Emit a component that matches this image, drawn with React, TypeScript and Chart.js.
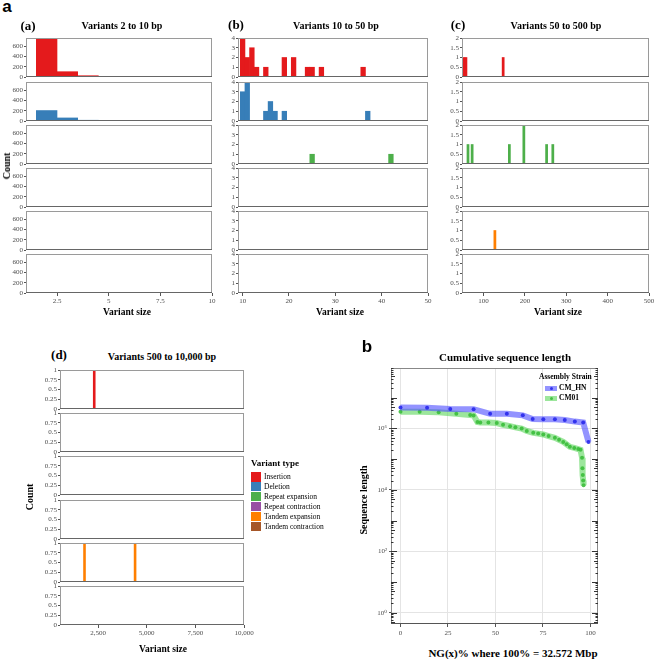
import React, { useEffect, useRef } from 'react';
import { Chart, registerables } from 'chart.js';
Chart.register(...registerables);

const SERIF = '"Liberation Serif", "DejaVu Serif", serif';
const SANS = '"Liberation Sans", Arial, sans-serif';

// ---------- data ----------
const VARIANT_TYPES = ['Insertion', 'Deletion', 'Repeat expansion', 'Repeat contraction', 'Tandem expansion', 'Tandem contraction'];
const VARIANT_COLORS = ['#E41A1C', '#377EB8', '#4DAF4A', '#984EA3', '#FF7F00', '#A65628'];

// (a) Variants 2 to 10 bp  [bin centre, count]
const A_INSERTION = [[2, 760], [3, 104], [4, 25], [5, 8]];
const A_DELETION = [[2, 205], [3, 60], [4, 15], [5, 5]];
const A_X_TICKS = [2.5, 5, 7.5, 10];
const A_Y_TICKS = [0, 200, 400, 600];

// (b) Variants 10 to 50 bp
const B_INSERTION = [[10, 4], [11, 2], [12, 3], [13, 1], [15, 1], [19, 2], [21, 2], [24, 1], [25, 1], [27, 1], [36, 1]];
const B_DELETION = [[10, 3], [11, 4], [15, 1], [16, 2], [17, 1], [19, 1], [37, 1]];
const B_REPEAT_EXPANSION = [[25, 1], [42, 1]];
const B_X_TICKS = [10, 20, 30, 40, 50];
const B_Y_TICKS = [0, 1, 2, 3, 4];

// (c) Variants 50 to 500 bp
const C_INSERTION = [[52.5, 1], [57.5, 1], [147.5, 1]];
const C_REPEAT_EXPANSION = [[62.5, 1], [72.5, 1], [162.5, 1], [197.5, 2], [252.5, 1], [267.5, 1]];
const C_TANDEM_EXPANSION = [[127.5, 1]];
const C_X_TICKS = [100, 200, 300, 400, 500];
const C_Y_TICKS = [0, 0.5, 1, 1.5, 2];

// (d) Variants 500 to 10,000 bp
const D_INSERTION = [[2300, 1]];
const D_TANDEM_EXPANSION = [[1800, 1], [4400, 1]];
const D_X_TICKS = [2500, 5000, 7500, 10000];
const D_Y_TICKS = [0, 0.25, 0.5, 0.75, 1];

// b: Cumulative sequence length
const CM_HN_NGX = [0, 14, 26.2, 38.5, 47.2, 56, 64.4, 69.6, 75.2, 81.3, 86.5, 91.8, 96.2, 99];
const CM_HN_LEN = [4.7e6, 4.68e6, 4.27e6, 4.17e6, 2.95e6, 2.95e6, 2.63e6, 2.0e6, 1.98e6, 1.95e6, 1.85e6, 1.65e6, 1.55e6, 3.6e5];
const CM01_NGX = [0, 10.1, 20.1, 29.4, 36.7, 38.5, 40.5, 42, 46.3, 50.7, 54, 57.7, 60.5, 63.8, 66.5, 69.9, 72.5, 75.2, 78, 81.3, 83.5, 85.7, 87.5, 89.2, 91.5, 93.6, 94.8, 95.6, 95.8, 96.0, 96.2, 96.4];
const CM01_LEN = [3.45e6, 3.45e6, 3.3e6, 2.95e6, 2.7e6, 2.6e6, 1.6e6, 1.55e6, 1.55e6, 1.48e6, 1.3e6, 1.17e6, 1.07e6, 9.8e5, 8.2e5, 7.1e5, 6.7e5, 6.3e5, 5.6e5, 4.9e5, 4.2e5, 3.6e5, 3.0e5, 2.5e5, 2.3e5, 2.1e5, 2.0e5, 1.1e5, 5.0e4, 3.0e4, 2.0e4, 1.4e4];
const NG_X_TICKS = [0, 25, 50, 75, 100];
const LEN_Y_TICKS = [1, 1e2, 1e4, 1e6];

// ---------- layout ----------
const ROW_STEP = 43.2;
const ROW_H = 39;
const AXW = 24;
const PAD_T = 6;
const PAD_B = 6;
const PAD_R = 16;
const XH = 14;

const HIST_PANELS = [
  { id: 'a', series: [A_INSERTION, A_DELETION, [], [], [], []], binW: 1, xMin: 1, xMax: 10, yMax: 765, xTicks: A_X_TICKS, yTicks: A_Y_TICKS, left: 26, right: 212, top: 38.3, fmt: (v: number) => String(v) },
  { id: 'b', series: [B_INSERTION, B_DELETION, B_REPEAT_EXPANSION, [], [], []], binW: 1, xMin: 9, xMax: 50, yMax: 4, xTicks: B_X_TICKS, yTicks: B_Y_TICKS, left: 238, right: 428.3, top: 38.3, fmt: (v: number) => String(v) },
  { id: 'c', series: [C_INSERTION, [], C_REPEAT_EXPANSION, [], C_TANDEM_EXPANSION, []], binW: 5, xMin: 48, xMax: 500, yMax: 2, xTicks: C_X_TICKS, yTicks: C_Y_TICKS, left: 462.3, right: 649, top: 38.3, fmt: (v: number) => String(v) },
  { id: 'd', series: [D_INSERTION, [], [], [], D_TANDEM_EXPANSION, []], binW: 100, xMin: 540, xMax: 10000, yMax: 1, xTicks: D_X_TICKS, yTicks: D_Y_TICKS, left: 59.7, right: 243.7, top: 370, fmt: (v: number) => v.toLocaleString('en-US') },
];

const framePlugin = {
  id: 'frame',
  afterDatasetsDraw(chart: any, _a: any, opts: any) {
    const { ctx, chartArea: a } = chart;
    ctx.save();
    ctx.lineWidth = 1;
    ctx.strokeStyle = opts.color || '#9a9a9a';
    ctx.strokeRect(Math.round(a.left) + 0.5, Math.round(a.top) + 0.5, Math.round(a.right) - Math.round(a.left) - 1, Math.round(a.bottom) - Math.round(a.top) - 1);
    ctx.strokeStyle = opts.bottomColor || '#666';
    ctx.beginPath();
    ctx.moveTo(Math.round(a.left), Math.round(a.bottom) - 0.5);
    ctx.lineTo(Math.round(a.right), Math.round(a.bottom) - 0.5);
    ctx.stroke();
    ctx.restore();
  },
};

const logTicksPlugin = {
  id: 'logticks',
  afterDatasetsDraw(chart: any) {
    const { ctx, chartArea: a } = chart;
    const ys = chart.scales.y;
    ctx.save();
    ctx.strokeStyle = '#333';
    ctx.lineWidth = 1;
    for (let d = -1; d <= 8; d++) {
      for (let m = 1; m <= 9; m++) {
        const v = m * Math.pow(10, d);
        if (v < ys.min || v > ys.max) continue;
        const y = Math.round(ys.getPixelForValue(v)) + 0.5;
        const len = m === 1 ? 6 : m === 5 ? 4 : 2.5;
        ctx.beginPath();
        ctx.moveTo(a.left, y);
        ctx.lineTo(a.left + len, y);
        ctx.moveTo(a.right, y);
        ctx.lineTo(a.right - len, y);
        ctx.stroke();
      }
    }
    ctx.restore();
  },
};

function binTable(points: number[][], base: number, binW: number, xMin: number, xMax: number) {
  const counts = new Map<number, number>();
  points.forEach(([c, n]) => counts.set(Math.round((c - base) / binW), n));
  const k0 = Math.ceil((xMin - base) / binW);
  const k1 = Math.floor((xMax - base) / binW);
  const out: { x: number; y: number }[] = [];
  for (let k = k0; k <= k1; k++) out.push({ x: base + k * binW, y: counts.get(k) || 0 });
  return out;
}

function histConfig(p: any, row: number, isBottom: boolean) {
  const all = p.series.flat();
  const base = all.length ? all[0][0] : p.xMin;
  return {
    type: 'bar',
    data: {
      datasets: [{
        label: VARIANT_TYPES[row],
        data: binTable(p.series[row], base, p.binW, p.xMin, p.xMax),
        backgroundColor: VARIANT_COLORS[row],
        borderWidth: 0,
        barPercentage: 1,
        categoryPercentage: 1,
        grouped: false,
      }],
    },
    options: {
      animation: false,
      responsive: false,
      devicePixelRatio: 1,
      events: [],
      layout: { padding: { left: 0, right: PAD_R, top: PAD_T, bottom: isBottom ? 2 : PAD_B } },
      plugins: { legend: { display: false }, tooltip: { enabled: false }, frame: {} },
      scales: {
        x: {
          type: 'linear', min: p.xMin, max: p.xMax, offset: false, display: isBottom,
          afterBuildTicks: (s: any) => { s.ticks = p.xTicks.map((v: number) => ({ value: v })); },
          afterFit: (s: any) => { s.height = isBottom ? XH : 0; },
          grid: { display: true, drawOnChartArea: false, drawTicks: true, tickLength: 3, color: '#555', offset: false },
          border: { display: false },
          ticks: { font: { family: SERIF, size: 7 }, color: '#4d4d4d', padding: 1, maxRotation: 0, autoSkip: false, callback: (v: number) => p.fmt(v) },
        },
        y: {
          type: 'linear', min: 0, max: p.yMax,
          afterBuildTicks: (s: any) => { s.ticks = p.yTicks.map((v: number) => ({ value: v })); },
          afterFit: (s: any) => { s.width = AXW; },
          grid: { display: true, drawOnChartArea: false, drawTicks: true, tickLength: 2, color: '#555' },
          border: { display: false },
          ticks: { font: { family: SERIF, size: 7 }, color: '#4d4d4d', padding: 1, autoSkip: false, callback: (v: number) => String(v) },
        },
      },
    },
    plugins: [framePlugin],
  };
}

const SUP = '⁰¹²³⁴⁵⁶⁷⁸⁹';

function cumulativeConfig() {
  return {
    type: 'line',
    data: {
      datasets: [
        {
          label: 'CM_HN',
          data: CM_HN_NGX.map((x, i) => ({ x, y: CM_HN_LEN[i] })),
          borderColor: 'rgba(80,80,255,0.62)',
          borderWidth: 6,
          pointRadius: 2,
          pointBorderWidth: 0,
          pointBackgroundColor: 'rgba(40,40,235,0.9)',
          tension: 0,
        },
        {
          label: 'CM01',
          data: CM01_NGX.map((x, i) => ({ x, y: CM01_LEN[i] })),
          borderColor: 'rgba(95,215,95,0.62)',
          borderWidth: 6,
          pointRadius: 2,
          pointBorderWidth: 0,
          pointBackgroundColor: 'rgba(60,190,60,0.9)',
          tension: 0,
        },
      ],
    },
    options: {
      animation: false,
      responsive: false,
      devicePixelRatio: 1,
      events: [],
      layout: { padding: { left: 0, right: 8, top: 6, bottom: 2 } },
      plugins: { legend: { display: false }, tooltip: { enabled: false }, frame: { color: '#888', bottomColor: '#555' } },
      scales: {
        x: {
          type: 'linear', min: -5, max: 104,
          afterBuildTicks: (s: any) => { s.ticks = NG_X_TICKS.map((v) => ({ value: v })); },
          afterFit: (s: any) => { s.height = 16; },
          grid: { color: '#e4e4e4', drawTicks: true, tickLength: 3, tickColor: '#555' },
          border: { display: false },
          ticks: { font: { family: SERIF, size: 7 }, color: '#4d4d4d', padding: 2, maxRotation: 0, autoSkip: false },
        },
        y: {
          type: 'logarithmic', min: 0.43, max: 9e7,
          afterBuildTicks: (s: any) => { s.ticks = LEN_Y_TICKS.map((v) => ({ value: v })); },
          afterFit: (s: any) => { s.width = 30; },
          grid: { color: '#e4e4e4', drawTicks: true, tickLength: 2, tickColor: '#555' },
          border: { display: false },
          ticks: {
            font: { family: SERIF, size: 7 }, color: '#4d4d4d', padding: 2, autoSkip: false,
            callback: (v: number) => '10' + String(Math.round(Math.log10(v))).split('').map((c) => SUP[+c]).join(''),
          },
        },
      },
    },
    plugins: [framePlugin, logTicksPlugin],
  };
}

function ChartCanvas({ x, y, w, h, make }: any) {
  const ref = useRef<HTMLCanvasElement>(null);
  useEffect(() => {
    const chart = new Chart(ref.current as any, make());
    return () => chart.destroy();
  }, []);
  return <canvas ref={ref} width={w} height={h} style={{ position: 'absolute', left: x, top: y, width: w, height: h }} />;
}

function Txt({ x, y, text, size = 10, bold = true, family = SERIF, rotate = false, align = 'center', color = '#000' }: any) {
  const tx = align === 'center' ? '-50%' : '0';
  return (
    <div style={{
      position: 'absolute', left: x, top: y, whiteSpace: 'nowrap', lineHeight: 1,
      fontFamily: family, fontSize: size, fontWeight: bold ? 'bold' : 'normal', color,
      transform: `translate(${tx}, -50%)${rotate ? ' rotate(-90deg)' : ''}`,
    }}>{text}</div>
  );
}

export default function App() {
  const canvases: any[] = [];
  HIST_PANELS.forEach((p) => {
    const l = Math.round(p.left);
    const r = Math.round(p.right);
    for (let row = 0; row < 6; row++) {
      const isBottom = row === 5;
      const t = Math.round(p.top + row * ROW_STEP);
      canvases.push(
        <ChartCanvas
          key={p.id + row}
          x={l - AXW}
          y={t - PAD_T}
          w={r - l + AXW + PAD_R}
          h={ROW_H + PAD_T + (isBottom ? XH + 2 : PAD_B)}
          make={() => histConfig(p, row, isBottom)}
        />
      );
    }
  });

  return (
    <div style={{ position: 'absolute', left: 0, top: 0, width: 657, height: 659, overflow: 'hidden', background: '#fff' }}>
      {canvases}
      <ChartCanvas x={361} y={362} w={245} h={280} make={cumulativeConfig} />

      {/* panel letters & titles */}
      <Txt x={7} y={6} text="a" size={17} family={SANS} />
      <Txt x={28} y={25} text="(a)" size={13} />
      <Txt x={122} y={26} text="Variants 2 to 10 bp" size={10} />
      <Txt x={236} y={24} text="(b)" size={13} />
      <Txt x={336} y={26} text="Variants 10 to 50 bp" size={10} />
      <Txt x={458} y={24} text="(c)" size={13} />
      <Txt x={556} y={26} text="Variants 50 to 500 bp" size={10} />
      <Txt x={59} y={354} text="(d)" size={13} />
      <Txt x={162} y={357} text="Variants 500 to 10,000 bp" size={10} />

      <Txt x={7} y={166} text="Count" size={10} rotate />
      <Txt x={30} y={497} text="Count" size={10} rotate />
      <Txt x={127} y={313} text="Variant size" size={9.5} />
      <Txt x={340} y={313} text="Variant size" size={9.5} />
      <Txt x={558} y={313} text="Variant size" size={9.5} />
      <Txt x={163} y={650} text="Variant size" size={9.5} />

      {/* variant type legend */}
      <Txt x={251} y={463} text="Variant type" size={9} align="left" />
      {VARIANT_TYPES.map((t, i) => (
        <React.Fragment key={t}>
          <div style={{ position: 'absolute', left: 251, top: 472 + i * 9.9, width: 10, height: 9.5, background: VARIANT_COLORS[i] }} />
          <Txt x={264} y={477 + i * 9.9} text={t} size={7.5} bold={false} align="left" />
        </React.Fragment>
      ))}

      {/* cumulative panel */}
      <Txt x={367} y={346} text="b" size={17} family={SANS} />
      <Txt x={505} y={357} text="Cumulative sequence length" size={11} />
      <Txt x={513} y={653} text="NG(x)% where 100% = 32.572 Mbp" size={11} />
      <Txt x={364} y={500} text="Sequence length" size={10} rotate />
      <Txt x={539} y={377} text="Assembly Strain" size={7.5} align="left" />
      {[['CM_HN', 'rgba(80,80,255,0.62)', 'rgba(40,40,235,0.9)'], ['CM01', 'rgba(95,215,95,0.62)', 'rgba(60,190,60,0.9)']].map(([n, c, pc], i) => (
        <React.Fragment key={n}>
          <div style={{ position: 'absolute', left: 545, top: 385.5 + i * 10, width: 12, height: 5, background: c }} />
          <div style={{ position: 'absolute', left: 549.5, top: 386.5 + i * 10, width: 3, height: 3, borderRadius: 2, background: pc }} />
          <Txt x={559} y={388 + i * 10} text={n} size={7.5} align="left" />
        </React.Fragment>
      ))}
    </div>
  );
}
